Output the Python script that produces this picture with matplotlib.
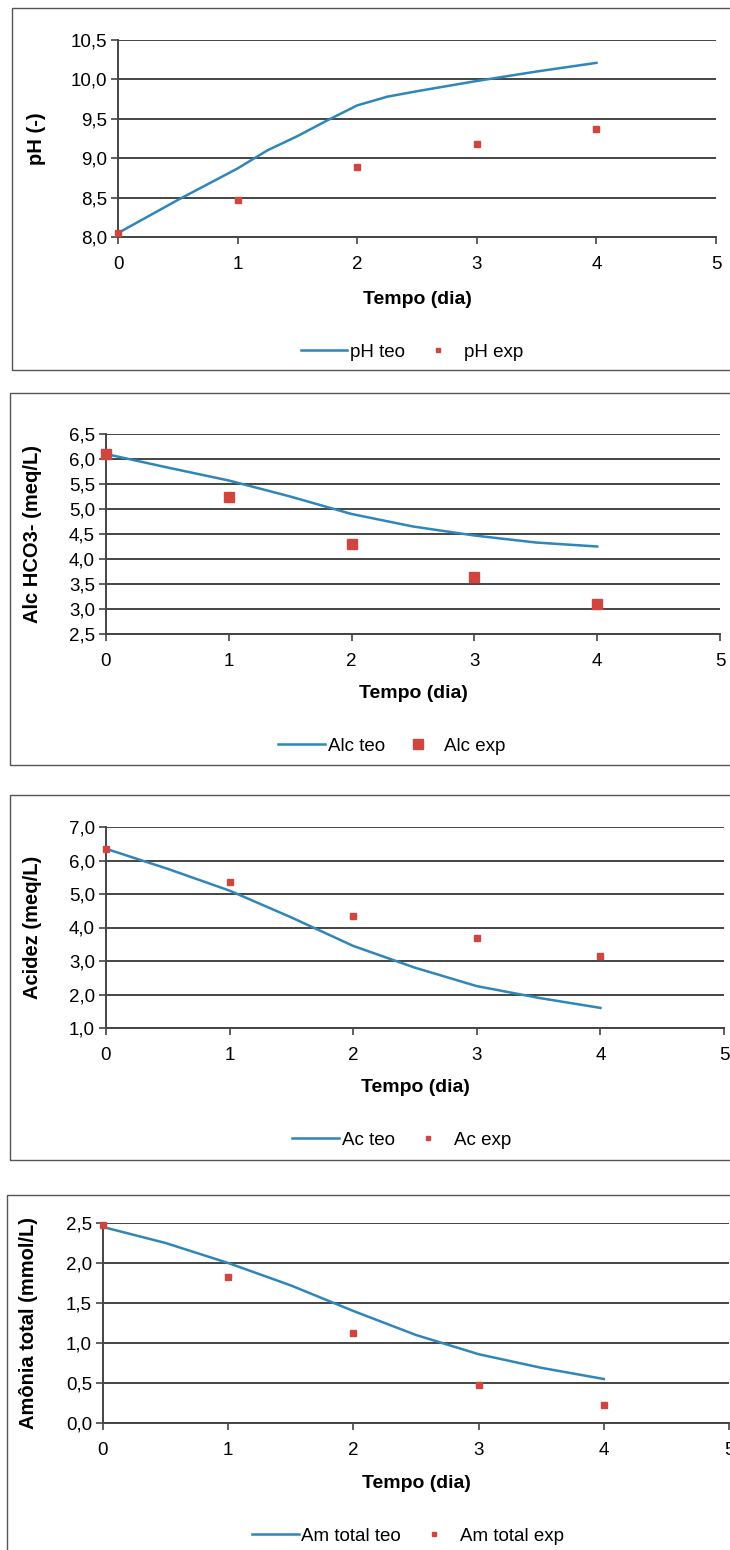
import matplotlib
matplotlib.use("Agg")
import matplotlib.pyplot as plt
from matplotlib.patches import Rectangle
from matplotlib.lines import Line2D

plt.rcParams["font.family"] = ["Liberation Sans", "DejaVu Sans"]

W, H = 730, 1550
DPI = 100

# ── data ────────────────────────────────────────────────────────────────────
dias = [0, 1, 2, 3, 4]

t_ph = [0, 0.5, 1, 1.25, 1.5, 1.75, 2, 2.25, 2.5, 3, 3.5, 4]
ph_teo = [8.05, 8.47, 8.87, 9.1, 9.28, 9.48, 9.67, 9.78, 9.85, 9.98, 10.1, 10.21]
ph_exp = [8.05, 8.47, 8.89, 9.18, 9.37]

t_alc = [0, 0.5, 1, 1.5, 2, 2.5, 3, 3.5, 4]
alc_teo = [6.1, 5.83, 5.57, 5.25, 4.9, 4.65, 4.47, 4.33, 4.25]
alc_exp = [6.1, 5.25, 4.3, 3.65, 3.1]

t_ac = [0, 0.5, 1, 1.5, 2, 2.5, 3, 3.5, 4]
ac_teo = [6.35, 5.75, 5.1, 4.3, 3.45, 2.8, 2.25, 1.9, 1.6]
ac_exp = [6.35, 5.35, 4.35, 3.7, 3.15]

t_am = [0, 0.5, 1, 1.5, 2, 2.5, 3, 3.5, 4]
am_teo = [2.45, 2.25, 2.0, 1.72, 1.4, 1.1, 0.86, 0.69, 0.55]
am_exp = [2.47, 1.82, 1.12, 0.48, 0.23]

C_LINE = "#2F86B8"
C_MARK = "#D0463F"
C_GRID = "#444444"

fig = plt.figure(figsize=(W / DPI, H / DPI), dpi=DPI)
fig.patch.set_facecolor("white")


def fx(x):
    return x / W


def fy(y):
    return 1 - y / H


def panel(box, axbox, t, teo, exp, ylim, ystep, ylabel, names,
          ylab_x, xlab_y, leg_xy, ms):
    # outer frame of each chart
    bl, bt, bb = box
    fig.patches.append(Rectangle((fx(bl), fy(bb)), 1.2, fy(bt) - fy(bb),
                                 transform=fig.transFigure, fill=False,
                                 edgecolor="#555555", lw=1.0))
    x0, x1, y0, y1 = axbox
    ax = fig.add_axes([fx(x0), fy(y1), fx(x1) - fx(x0), fy(y0) - fy(y1)])
    ax.plot(t, teo, color=C_LINE, lw=1.8, zorder=3)
    ax.plot(dias, exp, "s", color=C_MARK, ms=ms, mec=C_MARK, zorder=4,
            clip_on=False)
    ax.set_xlim(0, 5)
    ax.set_ylim(*ylim)
    ticks = []
    v = ylim[0]
    while v <= ylim[1] + 1e-9:
        ticks.append(round(v, 2))
        v += ystep
    ax.set_yticks(ticks)
    ax.set_yticklabels(["{:.1f}".format(k).replace(".", ",") for k in ticks])
    ax.set_xticks(range(6))
    ax.grid(axis="y", color=C_GRID, lw=1.4)
    ax.set_axisbelow(True)
    for s in ("top", "right"):
        ax.spines[s].set_visible(False)
    for s in ("left", "bottom"):
        ax.spines[s].set_color(C_GRID)
        ax.spines[s].set_linewidth(1.4)
    ax.tick_params(axis="x", direction="out", length=5, width=1.2,
                   color=C_GRID, labelsize=13.5, pad=9)
    ax.tick_params(axis="y", direction="out", length=5, width=1.2,
                   color=C_GRID, labelsize=13.5, pad=3)
    ax.set_ylabel(ylabel, fontsize=14.5, fontweight="bold")
    ax.yaxis.set_label_coords((ylab_x - x0) / (x1 - x0), 0.5)
    ax.set_xlabel("Tempo (dia)", fontsize=14, fontweight="bold", va="center")
    ax.xaxis.set_label_coords(0.5, -(xlab_y - y1) / (y1 - y0))
    handles = [Line2D([], [], color=C_LINE, lw=1.8),
               Line2D([], [], ls="", marker="s", color=C_MARK, ms=ms - 1)]
    fig.legend(handles, names, loc="center", ncol=2, frameon=False,
               bbox_to_anchor=(fx(leg_xy[0]), fy(leg_xy[1])),
               fontsize=13.5, handlelength=2.5, handletextpad=0.15,
               columnspacing=0.5)
    return ax


panel((12, 8, 370), (118, 716, 40, 237), t_ph, ph_teo, ph_exp,
      (8.0, 10.5), 0.5, "pH (-)", ["pH teo", "pH exp"],
      46, 300, (412, 352), 4.5)

panel((10, 393, 765), (106, 720, 434, 634), t_alc, alc_teo, alc_exp,
      (2.5, 6.5), 0.5, "Alc HCO3- (meq/L)", ["Alc teo", "Alc exp"],
      42, 693, (392, 746), 7.5)

panel((10, 795, 1160), (106, 724, 827, 1028), t_ac, ac_teo, ac_exp,
      (1.0, 7.0), 1.0, "Acidez (meq/L)", ["Ac teo", "Ac exp"],
      42, 1087, (402, 1140), 4.5)

panel((7, 1195, 1600), (103, 729, 1223, 1423), t_am, am_teo, am_exp,
      (0.0, 2.5), 0.5, "Amônia total (mmol/L)",
      ["Am total teo", "Am total exp"],
      38, 1483, (408, 1536), 4.5)

fig.savefig("out.png", dpi=DPI, facecolor="white")
